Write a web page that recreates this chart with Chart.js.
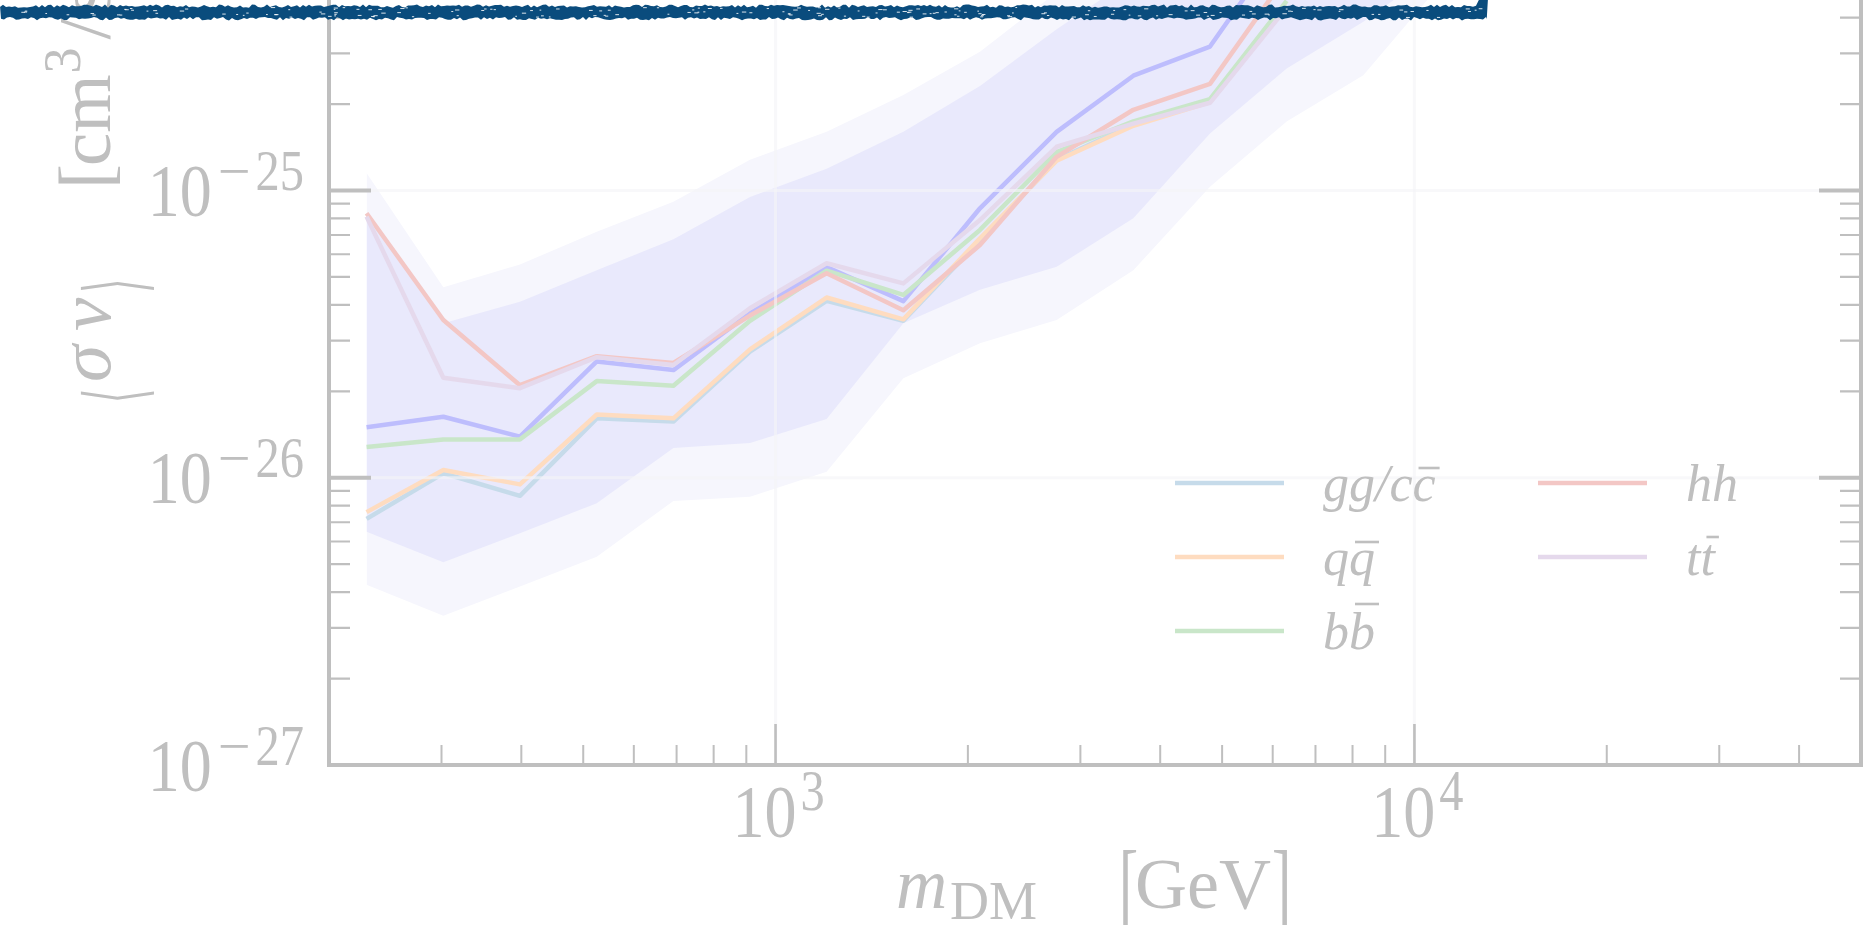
<!DOCTYPE html>
<html>
<head>
<meta charset="utf-8">
<script src="https://cdn.jsdelivr.net/npm/chart.js@4/dist/chart.umd.min.js"></script>
<style>
  html, body { margin: 0; padding: 0; width: 1876px; height: 925px; overflow: hidden; background: #ffffff; }
  #wrap { position: absolute; left: 0; top: -400px; width: 1876px; height: 1325px; }
</style>
</head>
<body>
<div id="wrap"><canvas id="c" width="1876" height="1325"></canvas></div>
<script>
// Dark matter mass grid [GeV]
const massGeV = [229, 302, 398, 525, 692, 912, 1202, 1585, 2089, 2754, 3631, 4786, 6310, 8318, 10965];

// Upper limits on <sigma v> [cm^3/s] per annihilation channel
const sigmaCombined = [1.50e-26, 1.63e-26, 1.39e-26, 2.54e-26, 2.37e-26, 3.74e-26, 5.41e-26, 4.12e-26, 8.67e-26, 1.60e-25, 2.51e-25, 3.17e-25, 7.6e-25];
const sigmaGG = [7.19e-27, 1.037e-26, 8.65e-27, 1.61e-26, 1.57e-26, 2.75e-26, 4.13e-26, 3.52e-26, 6.70e-26, 1.28e-25, 1.70e-25, 2.05e-25, 4.4e-25];
const sigmaQQ = [7.59e-27, 1.064e-26, 9.48e-27, 1.66e-26, 1.61e-26, 2.80e-26, 4.24e-26, 3.56e-26, 6.82e-26, 1.27e-25, 1.68e-25, 2.03e-25, 4.4e-25];
const sigmaBB = [1.28e-26, 1.36e-26, 1.36e-26, 2.17e-26, 2.09e-26, 3.52e-26, 5.26e-26, 4.33e-26, 7.29e-26, 1.36e-25, 1.74e-25, 2.08e-25, 4.57e-25];
const sigmaHH = [8.33e-26, 3.54e-26, 2.10e-26, 2.65e-26, 2.51e-26, 3.67e-26, 5.15e-26, 3.83e-26, 6.46e-26, 1.31e-25, 1.91e-25, 2.35e-25, 5.6e-25];
const sigmaTT = [8.11e-26, 2.23e-26, 2.05e-26, 2.63e-26, 2.47e-26, 3.89e-26, 5.58e-26, 4.75e-26, 7.89e-26, 1.42e-25, 1.71e-25, 2.02e-25, 4.33e-25];

// Expected-limit containment bands
const band95Upper = [1.15e-25, 4.6e-26, 5.53e-26, 7.19e-26, 9.14e-26, 1.28e-25, 1.60e-25, 2.15e-25, 3.04e-25, 4.9e-25, 7.0e-25, 1.0e-24, 1.4e-24, 2.0e-24, 2.8e-24];
const band68Upper = [8.3e-26, 3.45e-26, 4.1e-26, 5.28e-26, 6.76e-26, 9.5e-26, 1.19e-25, 1.60e-25, 2.31e-25, 3.64e-25, 5.5e-25, 8.0e-25, 1.1e-24, 1.6e-24, 2.2e-24];
const band68Lower = [6.49e-27, 5.08e-27, 6.41e-27, 8.15e-27, 1.27e-26, 1.32e-26, 1.60e-26, 3.45e-26, 4.51e-26, 5.43e-26, 8.0e-26, 1.58e-25, 2.66e-25, 3.87e-25, 6.0e-25];
const band95Lower = [4.24e-27, 3.31e-27, 4.18e-27, 5.31e-27, 8.3e-27, 8.59e-27, 1.05e-26, 2.22e-26, 2.94e-26, 3.54e-26, 5.28e-26, 1.03e-25, 1.74e-25, 2.52e-25, 5.19e-25];

// Channel labels (U+0304 marks an overbar on the preceding letter)
const channelLabels = ['gg/cc\u0304', 'qq\u0304', 'bb\u0304', 'hh', 'tt\u0304'];
const channelColors = ['#c6dbea', '#fedcc0', '#c9e6c9', '#f3c7c5', '#e5d9ec'];

// Axis decades and tick label exponents
const xMajorExp = [3, 4];
const yMajorExp = [-27, -26, -25, -24, -23];
const xRange = [200, 50000];
const yRange = [1e-27, 1e-23];

const OFF = 400;              // canvas sits 400px above the page top
const GREY = '#bfbfbf';
const SERIF = '"Liberation Serif", "DejaVu Serif", serif';

const pts = (ys) => ys.map((v, i) => ({ x: massGeV[i], y: v }));

const lineDs = (label, ys, color, order) => ({
  label, data: pts(ys), borderColor: color, backgroundColor: color,
  borderWidth: 4.5, pointRadius: 0, fill: false, tension: 0,
  borderJoinStyle: 'round', borderCapStyle: 'butt', order
});

const datasets = [
  // 0..3: bands
  { label: 'band95Upper', data: pts(band95Upper), borderColor: 'transparent', borderWidth: 0, pointRadius: 0,
    fill: { target: 1 }, backgroundColor: '#f6f6fd', order: 20 },
  { label: 'band95Lower', data: pts(band95Lower), borderColor: 'transparent', borderWidth: 0, pointRadius: 0,
    fill: false, order: 21 },
  { label: 'band68Upper', data: pts(band68Upper), borderColor: 'transparent', borderWidth: 0, pointRadius: 0,
    fill: { target: 3 }, backgroundColor: '#e9e9fc', order: 18 },
  { label: 'band68Lower', data: pts(band68Lower), borderColor: 'transparent', borderWidth: 0, pointRadius: 0,
    fill: false, order: 19 },
  // 4: combined limit
  lineDs('combined', sigmaCombined, '#bdbdfd', 10),
  // 5..9: channels
  lineDs(channelLabels[0], sigmaGG, channelColors[0], 9),
  lineDs(channelLabels[1], sigmaQQ, channelColors[1], 8),
  lineDs(channelLabels[2], sigmaBB, channelColors[2], 7),
  lineDs(channelLabels[3], sigmaHH, channelColors[3], 6),
  lineDs(channelLabels[4], sigmaTT, channelColors[4], 5)
];

// ---- text helpers ----
function drawText(ctx, s, x, y, font, sx = 1) {
  ctx.save();
  ctx.font = font;
  ctx.translate(x, y);
  ctx.scale(sx, 1);
  ctx.textAlign = 'left';
  ctx.textBaseline = 'alphabetic';
  ctx.fillText(s, 0, 0);
  ctx.restore();
}
function textW(ctx, s, font, sx = 1) {
  ctx.save(); ctx.font = font; const w = ctx.measureText(s).width * sx; ctx.restore(); return w;
}

const BASE_FONT = '74px ' + SERIF;
const SUP_FONT = '56px ' + SERIF;
const TSX = 0.865;

function powerParts(ctx, exp) {
  const neg = exp < 0;
  const digits = String(Math.abs(exp));
  const w10 = textW(ctx, '10', BASE_FONT, TSX);
  const wMinus = neg ? textW(ctx, '\u2212', SUP_FONT, TSX * 1.2) : 0;
  const wDig = textW(ctx, digits, SUP_FONT, TSX);
  return { neg, digits, w10, wMinus, wDig };
}

// "10^e" with its right edge at xr, "10" baseline at yb
function drawPowerRight(ctx, exp, xr, yb) {
  const p = powerParts(ctx, exp);
  const g1 = 6, g2 = p.neg ? 5 : 0;
  let x0 = xr - (p.w10 + g1 + p.wMinus + g2 + p.wDig);
  drawText(ctx, '10', x0, yb, BASE_FONT, TSX);
  let xs = x0 + p.w10 + g1;
  if (p.neg) { drawText(ctx, '\u2212', xs, yb - 26, SUP_FONT, TSX * 1.2); xs += p.wMinus + g2; }
  drawText(ctx, p.digits, xs, yb - 26, SUP_FONT, TSX);
}
// "10^e" centred at xc
function drawPowerCentre(ctx, exp, xc, yb) {
  const p = powerParts(ctx, exp);
  const g1 = 4;
  const total = p.w10 + g1 + p.wDig;
  const x0 = xc - total / 2 + 3;
  drawText(ctx, '10', x0, yb, BASE_FONT, TSX);
  drawText(ctx, p.digits, x0 + p.w10 + g1, yb - 27, SUP_FONT, TSX);
}

// label with overbars (combining macron after a letter)
function drawBarred(ctx, label, x, yb, font) {
  ctx.save();
  ctx.font = font;
  ctx.textBaseline = 'alphabetic';
  let cx = x;
  const chars = Array.from(label);
  for (let i = 0; i < chars.length; i++) {
    const ch = chars[i];
    if (ch === '\u0304') continue;
    const m = ctx.measureText(ch);
    ctx.fillText(ch, cx, yb);
    if (chars[i + 1] === '\u0304') {
      const top = yb - m.actualBoundingBoxAscent - 8;
      ctx.fillRect(cx + 6, top - 1.3, m.width - 2, 2.6);
    }
    cx += m.width;
  }
  ctx.restore();
}

function hash(i) { const s = Math.sin(i * 127.1 + 311.7) * 43758.5453; return s - Math.floor(s); }

const framePlugin = {
  id: 'frame',
  afterDatasetsDraw(chart) {
    const { ctx, chartArea: a, scales: { x, y } } = chart;
    ctx.save();
    // faint major grid drawn over the bands
    ctx.strokeStyle = 'rgba(244,244,248,0.65)';
    ctx.lineWidth = 3;
    xMajorExp.forEach(e => {
      const px = x.getPixelForValue(Math.pow(10, e));
      ctx.beginPath(); ctx.moveTo(px, a.top); ctx.lineTo(px, a.bottom); ctx.stroke();
    });
    yMajorExp.forEach(e => {
      const py = y.getPixelForValue(Math.pow(10, e));
      if (py <= a.top + 1 || py >= a.bottom - 1) return;
      ctx.beginPath(); ctx.moveTo(a.left, py); ctx.lineTo(a.right, py); ctx.stroke();
    });
    ctx.restore();
  },
  afterDraw(chart) {
    const { ctx, chartArea: a, scales: { x, y } } = chart;
    ctx.save();
    ctx.strokeStyle = GREY;
    ctx.fillStyle = GREY;
    ctx.lineCap = 'butt';

    // frame
    ctx.lineWidth = 4;
    ctx.strokeRect(a.left, a.top, a.right - a.left, a.bottom - a.top);

    // y ticks, both sides, pointing inward
    for (let e = -27; e <= -24; e++) {
      for (let k = 1; k <= 9; k++) {
        const v = k * Math.pow(10, e);
        const py = y.getPixelForValue(v);
        if (py < a.top - 0.5 || py > a.bottom + 0.5) continue;
        if (k === 1 && e === -27) continue;
        const major = k === 1;
        const len = major ? 42 : 21;
        ctx.lineWidth = major ? 4 : 2.2;
        ctx.beginPath();
        ctx.moveTo(a.left, py); ctx.lineTo(a.left + len, py);
        ctx.moveTo(a.right, py); ctx.lineTo(a.right - len, py);
        ctx.stroke();
      }
    }
    // x ticks, bottom and top, pointing inward
    for (let e = 2; e <= 4; e++) {
      for (let k = 1; k <= 9; k++) {
        const v = k * Math.pow(10, e);
        if (v <= xRange[0] || v >= xRange[1]) continue;
        const px = x.getPixelForValue(v);
        const major = k === 1;
        const len = major ? 41 : 20;
        ctx.lineWidth = major ? 2.6 : 2;
        ctx.beginPath();
        ctx.moveTo(px, a.bottom); ctx.lineTo(px, a.bottom - len);
        ctx.moveTo(px, a.top); ctx.lineTo(px, a.top + len);
        ctx.stroke();
      }
    }

    // tick labels
    yMajorExp.forEach(e => {
      const py = y.getPixelForValue(Math.pow(10, e));
      drawPowerRight(ctx, e, a.left - 25, py + 25.5);
    });
    xMajorExp.forEach(e => {
      const px = x.getPixelForValue(Math.pow(10, e));
      drawPowerCentre(ctx, e, px, a.bottom + 72);
    });

    // x-axis title: m_DM  [GeV]
    const tb = a.bottom + 143;
    drawText(ctx, 'm', 896, tb, 'italic 71px ' + SERIF);
    drawText(ctx, 'DM', 950, tb + 11, '54px ' + SERIF);
    drawText(ctx, '[', 1119, tb + 8, '96px ' + SERIF, 0.6);
    drawText(ctx, 'GeV', 1135, tb, '72px ' + SERIF);
    drawText(ctx, ']', 1272, tb + 8, '96px ' + SERIF, 0.6);

    // y-axis title: <sigma v>  [cm^3/s]
    ctx.save();
    ctx.translate(110, 403 + OFF);
    ctx.rotate(-Math.PI / 2);
    const F = '75px ' + SERIF, FI = 'italic 75px ' + SERIF;
    const AB = '82px ' + SERIF;
    drawText(ctx, '\u27E8', 0, 33, AB, 0.45);
    drawText(ctx, '\u03C3', 21, 0, FI);
    drawText(ctx, 'v', 72, 0, FI);
    drawText(ctx, '\u27E9', 110, 33, AB, 0.45);
    let tx = 214;
    drawText(ctx, '[', tx, 0, F); tx += textW(ctx, '[', F) - 2;
    drawText(ctx, 'cm', tx, 0, F); tx += textW(ctx, 'cm', F) + 1;
    drawText(ctx, '3', tx, -30, '52px ' + SERIF); tx += textW(ctx, '3', '52px ' + SERIF) + 8;
    drawText(ctx, '/', tx, 0, F); tx += textW(ctx, '/', F) + 4;
    drawText(ctx, 's', tx, 0, F); tx += textW(ctx, 's', F);
    drawText(ctx, ']', tx, 0, F);
    ctx.restore();

    // legend: two columns, filled column by column
    const rows = [483, 557, 631];
    const cols = [1175, 1538];
    const LF = 'italic 52px ' + SERIF;
    channelLabels.forEach((lab, i) => {
      const col = i < 3 ? 0 : 1, row = i < 3 ? i : i - 3;
      const ly = rows[row] + OFF, lx = cols[col];
      const ds = chart.data.datasets.find(d => d.label === lab);
      ctx.strokeStyle = ds.borderColor;
      ctx.lineWidth = 4.5;
      ctx.beginPath(); ctx.moveTo(lx, ly); ctx.lineTo(lx + 109, ly); ctx.stroke();
      ctx.fillStyle = GREY;
      drawBarred(ctx, lab, lx + 148, ly + 18, LF);
    });

    // rough navy stroke along the top edge
    ctx.save();
    ctx.translate(0, OFF);
    ctx.fillStyle = '#0a4c7d';
    ctx.beginPath();
    ctx.moveTo(0, 6);
    let i = 0;
    for (let px = 0; px <= 1478; px += 3, i++) ctx.lineTo(px, 4.5 + hash(i) * 3.2);
    ctx.lineTo(1477 + hash(7) * 2, 0);
    ctx.lineTo(1488, -2);
    ctx.lineTo(1488 - hash(3) * 2, 19);
    i = 0;
    for (let px = 1486; px >= 0; px -= 3, i++) ctx.lineTo(px, 17 + hash(i + 5000) * 3.4);
    ctx.closePath();
    ctx.fill();
    ctx.fillStyle = 'rgba(255,255,255,0.85)';
    for (let k = 0; k < 420; k++) {
      if (hash(k + 9000) < 0.55) continue;
      const sx = hash(k + 12000) * 1480;
      const sy = 7 + hash(k + 15000) * 10;
      ctx.fillRect(sx, sy, 1.5 + hash(k + 18000) * 3, 1);
    }
    ctx.restore();

    ctx.restore();
  }
};

new Chart(document.getElementById('c'), {
  type: 'line',
  data: { datasets },
  options: {
    responsive: false,
    animation: false,
    devicePixelRatio: 1,
    layout: { padding: { left: 329, right: 15, top: 16, bottom: 160 } },
    plugins: { legend: { display: false }, tooltip: { enabled: false }, filler: { propagate: false } },
    elements: { line: { capBezierPoints: false } },
    scales: {
      x: { type: 'logarithmic', min: xRange[0], max: xRange[1], display: false },
      y: { type: 'logarithmic', min: yRange[0], max: yRange[1], display: false }
    }
  },
  plugins: [framePlugin]
});
</script>
</body>
</html>
